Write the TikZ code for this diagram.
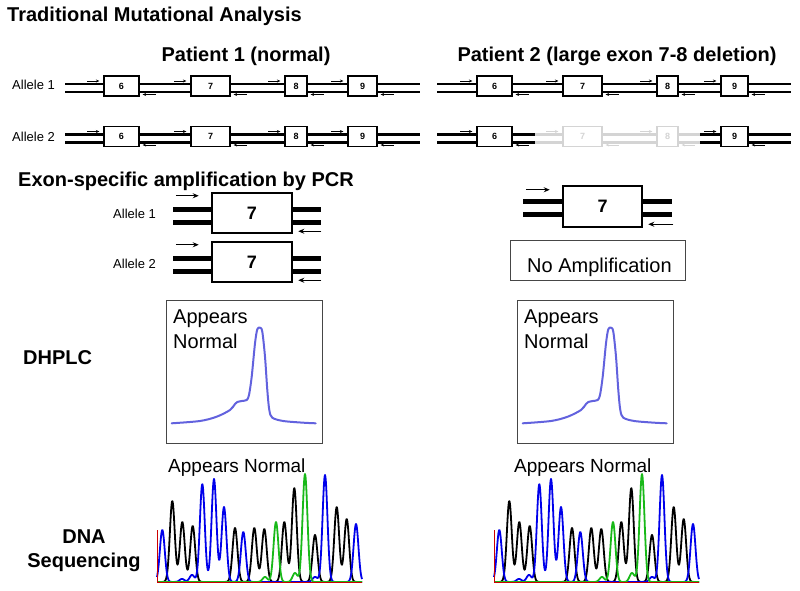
\documentclass[tikz,border=0pt]{standalone}
\usepackage{fontspec}
\setmainfont{Liberation Sans}
\usetikzlibrary{arrows.meta,positioning,calc}
\definecolor{hplcblue}{RGB}{98,98,222}
\definecolor{seqblue}{RGB}{0,0,235}
\definecolor{seqgreen}{RGB}{25,185,25}
\definecolor{seqred}{RGB}{205,0,0}
\definecolor{ghost}{RGB}{212,212,212}
\definecolor{panelgray}{RGB}{70,70,70}
% one chromatogram peak: pk(x, centre, height)
\pgfmathdeclarefunction{pk}{3}{%
  \pgfmathparse{#3*exp(-min(((#1-#2)/3.4641)*((#1-#2)/3.4641),9))}%
}
\tikzset{
  heading/.style={font=\fontsize{20}{24}\selectfont\bfseries, inner sep=0pt},
  allele/.style={font=\fontsize{13}{15}\selectfont, inner sep=0pt},
  say/.style={font=\fontsize{20}{24}\selectfont, inner sep=0pt},
  strand/.style={double, line width=2.6pt, double distance=5.4pt},
  exon/.style={draw, line width=1.2pt, fill=white, minimum height=20pt, inner sep=0pt,
    font=\fontsize{9}{9}\selectfont\bfseries},
  primer/.style={line width=0.8pt, -{Stealth[length=3.5pt,width=3pt]}},
  ampstrand/.style={double, line width=5pt, double distance=8pt},
  ampexon/.style={draw, line width=2.5pt, fill=white, minimum width=80pt, minimum height=40pt,
    font=\fontsize{18}{18}\selectfont\bfseries},
  bigprimer/.style={line width=1.1pt, -{Stealth[length=6pt,width=5pt]}},
  panel/.style={draw=panelgray, line width=1pt, inner sep=0pt, anchor=north west},
  hplc/.style={hplcblue, line width=2pt, line cap=round, line join=round},
  seq/.style={line width=1.8pt, line join=round},
}
\begin{document}
\begin{tikzpicture}[x=1pt,y=-1pt]
  \useasboundingbox (0,0) rectangle (800,591);
  % headings
  \node[heading, anchor=base west] (title) at (7,21.7) {Traditional Mutational Analysis};
  \node[heading, anchor=base] (pat1) at (246,62) {Patient 1 (normal)};
  \node[heading, anchor=base] (pat2) at (617,62) {Patient 2 (large exon 7-8 deletion)};
  \node[heading, anchor=base west] (pcr) at (18,186) {Exon-specific amplification by PCR};
  \node[heading, anchor=base west] (dhplc) at (23,364) {DHPLC};
  \node[heading, anchor=base] (dna) at (84,543) {DNA};
  \node[heading, anchor=base] (sequ) at (84,567) {Sequencing};

  % allele maps, patient 1
  \foreach \row/\yy/\yb in {1/88/89.3,2/138.5/141.7}{
    \node[allele, anchor=base west] (lab\row) at (12,\yb) {Allele \row};
    \coordinate (p1s\row) at (65,\yy);
    \coordinate (p1e\row) at (420,\yy);
    \draw[strand] (p1s\row) -- (p1e\row);
    \foreach \exn/\xc/\ew in {6/121.5/35,7/210.5/39,8/296/22,9/362.5/29}{
      \node[exon, minimum width=\ew pt] (p1-\row-\exn) at (\xc,\yy-2) {\exn};
      \draw[primer] ($(p1-\row-\exn.west)+(-16,-5)$) -- ($(p1-\row-\exn.west)+(-4,-5)$);
      \draw[primer] ($(p1-\row-\exn.east)+(16,8.5)$) -- ($(p1-\row-\exn.east)+(3,8.5)$);
    }
  }
  % allele maps, patient 2 (exons 7-8 lost on allele 2)
  \foreach \row/\yy/\del in {1/88/black,2/138.5/ghost}{
    \coordinate (p2s\row) at (437,\yy);
    \coordinate (p2a\row) at (535,\yy);
    \coordinate (p2b\row) at (700,\yy);
    \coordinate (p2e\row) at (791,\yy);
    \draw[strand] (p2s\row) -- (p2a\row);
    \draw[strand, color=\del] (p2a\row) -- (p2b\row);
    \draw[strand] (p2b\row) -- (p2e\row);
    \foreach \exn/\xc/\ew/\cc in {6/494.5/35/black,7/582.5/39/\del,8/667.5/21/\del,9/734.5/27/black}{
      \node[exon, minimum width=\ew pt, draw=\cc, text=\cc] (p2-\row-\exn) at (\xc,\yy-2) {\exn};
      \draw[primer, color=\cc] ($(p2-\row-\exn.west)+(-16,-5)$) -- ($(p2-\row-\exn.west)+(-4,-5)$);
      \draw[primer, color=\cc] ($(p2-\row-\exn.east)+(16,8.5)$) -- ($(p2-\row-\exn.east)+(3,8.5)$);
    }
  }

  % exon 7 amplicons, patient 1
  \foreach \row/\yy/\yb in {1/213/218.3,2/262/268.3}{
    \node[allele, anchor=base west] (amplab\row) at (113,\yb) {Allele \row};
    \coordinate (ampl\row) at (173,\yy+2.5);
    \coordinate (ampr\row) at (321,\yy+2.5);
    \draw[ampstrand] (ampl\row) -- (ampr\row);
    \node[ampexon] (amp\row) at (252,\yy) {7};
    \draw[bigprimer] ($(amp\row.north west)+(-35,4)$) -- ($(amp\row.north west)+(-12,4)$);
    \draw[bigprimer] ($(amp\row.south east)+(28,-3)$) -- ($(amp\row.south east)+(5,-3)$);
  }
  % patient 2: only allele 1 amplifies
  \coordinate (ampl3) at (523,207.5);
  \coordinate (ampr3) at (672,207.5);
  \draw[ampstrand] (ampl3) -- (ampr3);
  \node[ampexon, minimum width=79pt, minimum height=41pt] (amp3) at (602.5,206.5) {7};
  \draw[bigprimer] ($(amp3.north west)+(-36,5)$) -- ($(amp3.north west)+(-12,5)$);
  \draw[bigprimer] ($(amp3.south east)+(30,-4)$) -- ($(amp3.south east)+(5,-4)$);
  \node[draw=panelgray, line width=1pt, minimum width=175pt, minimum height=40pt] (noamp) at (597.5,260) {};
  \node[say, anchor=base west] (noamptext) at (527,272) {No Amplification};

  % DHPLC traces
  \foreach \pt/\bx in {1/166,2/517}{
    \node[panel, minimum width=156pt, minimum height=143pt] (hbox\pt) at (\bx,300) {};
    \node[say, anchor=base west] (happ\pt) at ($(hbox\pt.north west)+(7,23)$) {Appears};
    \node[say, anchor=base west] (hnorm\pt) at ($(hbox\pt.north west)+(7,48)$) {Normal};
    \draw[hplc, shift={(\bx,300)}] plot[smooth, tension=0.5] coordinates {
      (5.7,123.3) (34,121) (50.7,116.7) (64,110) (69,104) (71.3,102) (75.7,101)
      (80.7,100) (83,95) (85.7,76.7) (89,43.3) (91.3,29.3) (94,27.7) (96.3,31.7)
      (99,56.7) (101.3,90) (103.3,110) (106.3,117.7) (117.3,121) (137.3,122.7) (149.7,123.3)};
  }

  % sequencing chromatograms
  \foreach \pt/\cx/\tx in {1/157/168,2/494/514}{
    \node[say, font=\fontsize{19}{22}\selectfont, anchor=base west] (ssay\pt) at (\tx,472.7) {Appears Normal};
    \begin{scope}[shift={(\cx,582)}, yscale=-1]
      \draw[seq, black] plot[domain=0:205, samples=411] (\x,{pk(\x,15.3,81)+pk(\x,25.3,60)+pk(\x,35.7,56)
        +pk(\x,78,54)+pk(\x,97.3,54)+pk(\x,107.3,53)+pk(\x,127.3,60)+pk(\x,137.3,94)
        +pk(\x,158,47)+pk(\x,179.7,75)+pk(\x,189.7,63)});
      \draw[seq, seqblue] plot[domain=0:205, samples=411] (\x,{pk(\x,5.3,52)+pk(\x,25,3)+pk(\x,35,7)
        +pk(\x,45.3,98)+pk(\x,57,103)+pk(\x,67,75)+pk(\x,86.3,50)+pk(\x,158,5)
        +pk(\x,168,107)+pk(\x,199,58)});
      \draw[seq, seqgreen] plot[domain=0:205, samples=411] (\x,{pk(\x,108,5)+pk(\x,119,60)
        +pk(\x,138,9)+pk(\x,148,108)});
      \draw[seqred, line width=0.9pt] (0,52) -- (0,0) -- (205,0);
    \end{scope}
  }
\end{tikzpicture}
\end{document}
